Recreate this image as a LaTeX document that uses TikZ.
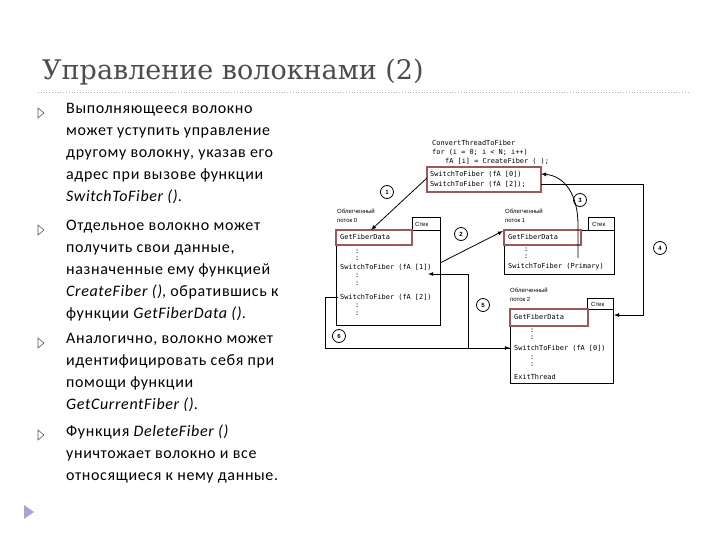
\documentclass[tikz,border=0pt]{standalone}
\usepackage{fontspec}
\setmainfont{Carlito}
\newfontfamily\bodyfont{Carlito}[LetterSpace=4]
\newfontfamily\titlefont{DejaVu Serif}
\setmonofont{DejaVu Sans Mono}
\setsansfont{Liberation Sans}
\begin{document}
\begin{tikzpicture}[x=1pt,y=-1pt,
  body/.style={anchor=north west,align=left,font=\bodyfont\fontsize{16}{22}\selectfont,inner sep=0pt},
  code/.style={anchor=west,inner sep=0pt,font=\ttfamily\fontsize{6.9}{7}\selectfont},
  lab/.style={anchor=west,inner sep=0pt,font=\sffamily\fontsize{6}{9}\selectfont,align=left},
  fbox/.style={draw,line width=0.8pt},
  rbox/.style={draw=red!40!black!65,line width=1.1pt},
  num/.style={circle,draw,line width=0.8pt,minimum size=13pt,inner sep=0pt,font=\sffamily\bfseries\fontsize{6}{7}\selectfont},
  arr/.style={-latex,line width=0.8pt},
  bul/.style={draw=gray!70!black,line width=0.6pt}]
\useasboundingbox (0,0) rectangle (720,540);
\node[anchor=west,inner sep=0pt,font=\titlefont\fontsize{27}{30}\selectfont,text=black!70] (title) at (42,72) {Управление волокнами (2)};
\draw[gray!60,dotted,line width=0.8pt] (38,92) -- (690,92);
% bullets
\foreach \y/\n in {113/b1,230/b2,343/b3,435/b4}{
  \draw[bul] (38,\y-5) -- (44,\y) -- (38,\y+5) -- cycle;}
\node[body] (t1) at (66,103) {Выполняющееся волокно\\может уступить управление\\другому волокну, указав его\\адрес при вызове функции\\\textit{SwitchToFiber ()}.};
\node[body] (t2) at (66,220) {Отдельное волокно может\\получить свои данные,\\назначенные ему функцией\\\textit{CreateFiber ()}, обратившись к\\функции \textit{GetFiberData ()}.};
\node[body] (t3) at (66,333) {Аналогично, волокно может\\идентифицировать себя при\\помощи функции\\\textit{GetCurrentFiber ()}.};
\node[body] (t4) at (66,425) {Функция \textit{DeleteFiber ()}\\уничтожает волокно и все\\относящиеся к нему данные.};
% bottom icon
\fill[blue!40!gray!50] (24,505) -- (34,512) -- (24,519) -- cycle;
% code
\node[code] (c1) at (432,143) {ConvertThreadToFiber};
\node[code] (c2) at (432,152) {for (i = 0; i < N; i++)};
\node[code] (c3) at (445,161) {fA [i] = CreateFiber ( );};
\draw[rbox] (427,167) rectangle (541,192);
\coordinate (rbL) at (427,178);
\coordinate (rbR0) at (541,174);
\coordinate (rbR2) at (541,184);
\node[code] (c4) at (430,174) {SwitchToFiber (fA [0])};
\node[code] (c5) at (430,184) {SwitchToFiber (fA [2]);};
% box 0
\node[lab] (l0) at (337,216) {Облегченный\\поток 0};
\draw[fbox] (336,230) rectangle (440,325);
\draw[fbox] (412,230) |- (440,217) -- (440,230);
\node[lab] at (415,224) {Стек};
\draw[rbox] (336,230) rectangle (412,245);
\node[code] (g0) at (340,237) {GetFiberData};
\node[code] at (355,252) {:};
\node[code] at (355,259) {:};
\node[code] (s01) at (340,267) {SwitchToFiber (fA [1])};
\node[code] at (355,276) {:};
\node[code] at (355,284) {:};
\node[code] (s02) at (340,297) {SwitchToFiber (fA [2])};
\node[code] at (355,306) {:};
\node[code] at (355,314) {:};
% box 1
\node[lab] (l1) at (505,216) {Облегченный\\поток 1};
\draw[fbox] (504,230) rectangle (614,274);
\draw[fbox] (588,230) |- (614,217) -- (614,230);
\node[lab] at (592,224) {Стек};
\draw[rbox] (504,230) rectangle (581,245);
\node[code] (g1) at (508,237) {GetFiberData};
\node[code] at (524,250) {:};
\node[code] at (524,257) {:};
\node[code] (s1) at (508,267) {SwitchToFiber (Primary)};
% box 2
\node[lab] (l2) at (510,295) {Облегченный\\поток 2};
\draw[fbox] (510,309) rectangle (613,383);
\draw[fbox] (587,309) |- (613,298) -- (613,309);
\node[lab] at (591,304) {Стек};
\draw[rbox] (510,309) rectangle (588,326);
\node[code] (g2) at (514,317) {GetFiberData};
\node[code] at (530,331) {:};
\node[code] at (530,338) {:};
\node[code] (s2) at (514,348) {SwitchToFiber (fA [0])};
\node[code] at (530,358) {:};
\node[code] at (530,365) {:};
\node[code] (e2) at (514,377) {ExitThread};
% numbers
\node[num] (n1) at (387,192) {1};
\node[num] (n2) at (461,234) {2};
\node[num] (n3) at (580,200) {3};
\node[num] (n4) at (660,248) {4};
\node[num] (n5) at (483,305) {5};
\node[num] (n6) at (339,336) {6};
% arrows
\coordinate (a1e) at (371,230);
\draw[arr] (rbL) -- (a1e);
\coordinate (a2s) at (440,263);
\coordinate (a2e) at (503,231);
\draw[arr] (a2s) -- (a2e);
\coordinate (a3s) at (578,258);
\draw[arr] (a3s) -- (578,225) .. controls (578,195) and (565,176) .. (rbR0);
\coordinate (a4e) at (614,315);
\draw[arr] (rbR2) -- (643,184) -- (643,315) -- (a4e);
\coordinate (a5s) at (510,348);
\coordinate (a5e) at (428,274);
\draw[arr] (a5s) -- (468,348) -- (468,274) -- (a5e);
\coordinate (a6s) at (338,297);
\draw[arr] (a6s) -- (325,297) -- (325,348) -- (a5s);
\end{tikzpicture}
\end{document}
